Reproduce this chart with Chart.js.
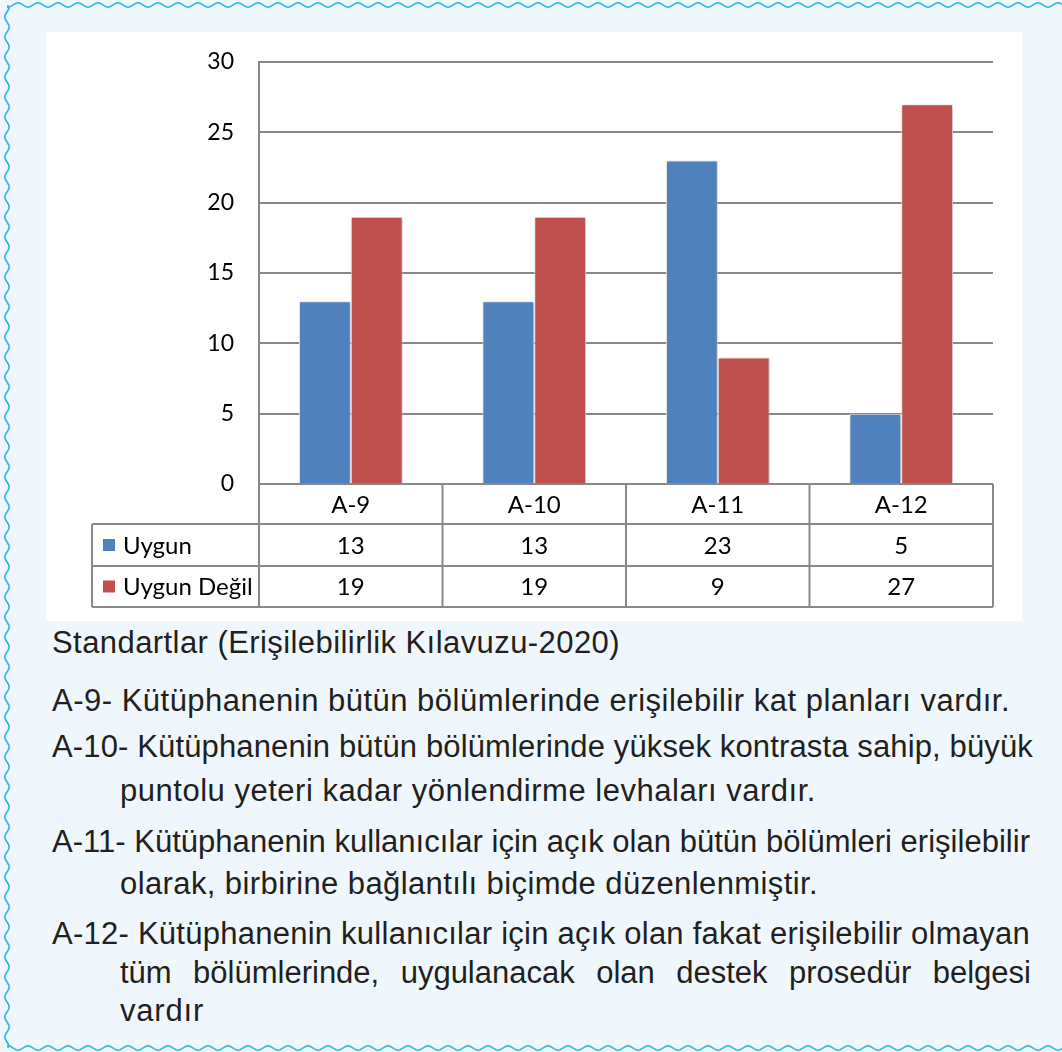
<!DOCTYPE html>
<html lang="tr">
<head>
<meta charset="utf-8">
<script src="https://cdn.jsdelivr.net/npm/chart.js@4.4.1/dist/chart.umd.min.js"></script>
<style>
  html, body { margin: 0; padding: 0; }
  body { width: 1062px; height: 1052px; background: #eff7fd; position: relative; overflow: hidden; }
  #frame { position: absolute; left: 0; top: 0; }
  #panel { position: absolute; left: 46px; top: 32px; width: 976px; height: 589px; background: #fff; }
  #panel canvas { display: block; }
  .ln { position: absolute; font: 31px "Liberation Sans", Arial, sans-serif; line-height: 31px;
        color: #231f20; white-space: nowrap; }
  .just { white-space: normal; text-align: justify; text-align-last: justify; }
</style>
</head>
<body>
<svg id="frame" width="1062" height="1052"></svg>
<div id="panel"><canvas id="chart-standartlar" width="976" height="589"></canvas></div>
<div id="notes"></div>

<script>
// === Veriler ===
const kategoriler = ['A-9', 'A-10', 'A-11', 'A-12'];
const uygun = [13, 13, 23, 5];
const uygunDegil = [19, 19, 9, 27];
const seriAdlari = ['Uygun', 'Uygun Değil'];
const renkler = ['#4f81bd', '#c0504d'];
const yMax = 30, yAdim = 5;

// metin satırları: [metin, sol, taban çizgisi, sağ kenar, iki yana yasla]
const satirlar = [
  ['Standartlar (Erişilebilirlik Kılavuzu-2020)', 52, 653, 620, false],
  ['A-9- Kütüphanenin bütün bölümlerinde erişilebilir kat planları vardır.', 52, 711, 1010, false],
  ['A-10- Kütüphanenin bütün bölümlerinde yüksek kontrasta sahip, büyük', 52, 757, 1033, false],
  ['puntolu yeteri kadar yönlendirme levhaları vardır.', 120, 801, 816, false],
  ['A-11- Kütüphanenin kullanıcılar için açık olan bütün bölümleri erişilebilir', 52, 852, 1030, false],
  ['olarak, birbirine bağlantılı biçimde düzenlenmiştir.', 120, 894, 818, false],
  ['A-12- Kütüphanenin kullanıcılar için açık olan fakat erişilebilir olmayan', 52, 944, 1030, false],
  ['tüm bölümlerinde, uygulanacak olan destek prosedür belgesi', 120, 983, 1031, true],
  ['vardır', 120, 1021, 204, false]
];

// === Dalgalı çerçeve ===
function dalga() {
  const svg = document.getElementById('frame');
  const P = 20, A = 2.2;
  let d = '';
  d += 'M 8 5';
  for (let x = 8; x <= 1062; x += 2) d += ` L ${x} ${(5 + A * Math.cos((x - 8) / P * 2 * Math.PI)).toFixed(2)}`;
  d += ' M 7 7';
  for (let y = 7; y <= 1047; y += 2) d += ` L ${(7 + A * Math.cos((y - 7) / P * 2 * Math.PI)).toFixed(2)} ${y}`;
  d += ' M 8 1048';
  for (let x = 8; x <= 1062; x += 2) d += ` L ${x} ${(1048 - A * Math.cos((x - 8) / P * 2 * Math.PI)).toFixed(2)}`;
  svg.innerHTML = `<path d="${d}" fill="none" stroke="#2ab4ea" stroke-width="1.6"/>`;
}
dalga();

// === Açıklama metinleri ===
function notlar() {
  const box = document.getElementById('notes');
  satirlar.forEach(([t, x, b, sag, j]) => {
    const el = document.createElement('div');
    el.className = 'ln';
    el.textContent = t;
    el.style.left = x + 'px';
    el.style.top = (b - 26) + 'px';
    box.appendChild(el);
    if (j) {
      el.classList.add('just');
      el.style.width = (sag - x) + 'px';
    } else {
      // satırı referanstaki genişliğe getir
      const w = el.getBoundingClientRect().width;
      el.style.letterSpacing = ((sag - x - w) / t.length).toFixed(3) + 'px';
    }
  });
}
notlar();

// === Veri tablosu eklentisi ===
const gri = '#898989';
const tabloFont = '24px Lato, "Open Sans", sans-serif';
const veriTablosu = {
  id: 'veriTablosu',
  afterDraw(chart) {
    const { ctx, chartArea } = chart;
    const xs = chart.scales.x;
    const w = (chartArea.right - chartArea.left) / kategoriler.length;
    const y0 = chartArea.bottom;
    const rows = [y0, y0 + 40, y0 + 82, y0 + 123];
    const solX = 46;
    ctx.save();
    ctx.strokeStyle = gri;
    ctx.lineWidth = 2;
    ctx.beginPath();
    for (let i = 1; i < rows.length; i++) {
      ctx.moveTo(solX, rows[i]); ctx.lineTo(chartArea.right, rows[i]);
    }
    ctx.moveTo(solX, rows[1]); ctx.lineTo(solX, rows[3]);
    for (let i = 0; i <= kategoriler.length; i++) {
      const x = chartArea.left + i * w;
      ctx.moveTo(x, y0); ctx.lineTo(x, rows[3]);
    }
    ctx.stroke();

    ctx.fillStyle = '#000';
    ctx.font = tabloFont;
    ctx.textAlign = 'center';
    ctx.textBaseline = 'middle';
    const seriler = [uygun, uygunDegil];
    kategoriler.forEach((k, i) => {
      const cx = xs.getPixelForValue(i);
      ctx.fillText(k, cx, (rows[0] + rows[1]) / 2 + 1);
      seriler.forEach((s, j) => ctx.fillText(String(s[i]), cx, (rows[j + 1] + rows[j + 2]) / 2 + 1));
    });
    ctx.textAlign = 'left';
    seriAdlari.forEach((ad, j) => {
      const cy = (rows[j + 1] + rows[j + 2]) / 2;
      ctx.fillStyle = renkler[j];
      ctx.fillRect(solX + 11, cy - 6, 12, 12);
      ctx.fillStyle = '#000';
      ctx.fillText(ad, solX + 31, cy + 1);
    });
    ctx.restore();
  }
};

// hafif gölge
const golge = {
  id: 'golge',
  beforeDatasetsDraw(chart) {
    const ctx = chart.ctx;
    ctx.save();
    ctx.shadowColor = 'rgba(0,0,0,0.3)';
    ctx.shadowBlur = 4;
    ctx.shadowOffsetX = 1;
    ctx.shadowOffsetY = 1;
  },
  afterDatasetsDraw(chart) { chart.ctx.restore(); }
};

// === Grafik ===
const chart = new Chart(document.getElementById('chart-standartlar').getContext('2d'), {
  type: 'bar',
  data: {
    labels: kategoriler,
    datasets: [
      { label: seriAdlari[0], data: uygun, backgroundColor: renkler[0] },
      { label: seriAdlari[1], data: uygunDegil, backgroundColor: renkler[1] }
    ]
  },
  options: {
    responsive: false,
    animation: false,
    layout: { padding: { top: 30, right: 29, bottom: 137, left: 0 } },
    datasets: { bar: { categoryPercentage: 0.565, barPercentage: 1, borderColor: '#fff', borderWidth: 1 } },
    scales: {
      x: { display: false },
      y: {
        min: 0, max: yMax,
        // tick padding'in üst boşluğa eklenmesini engelle
        afterFit(s) { s.width = 213; s.paddingTop = 0; s.paddingBottom = 0; },
        ticks: { stepSize: yAdim, padding: 25, color: '#000', font: { family: 'Lato', size: 23 } },
        grid: { color: '#888', lineWidth: 2, drawTicks: false },
        border: { display: true, color: '#888', width: 2 }
      }
    },
    plugins: { legend: { display: false }, tooltip: { enabled: false } }
  },
  plugins: [golge, veriTablosu]
});
</script>
</body>
</html>
